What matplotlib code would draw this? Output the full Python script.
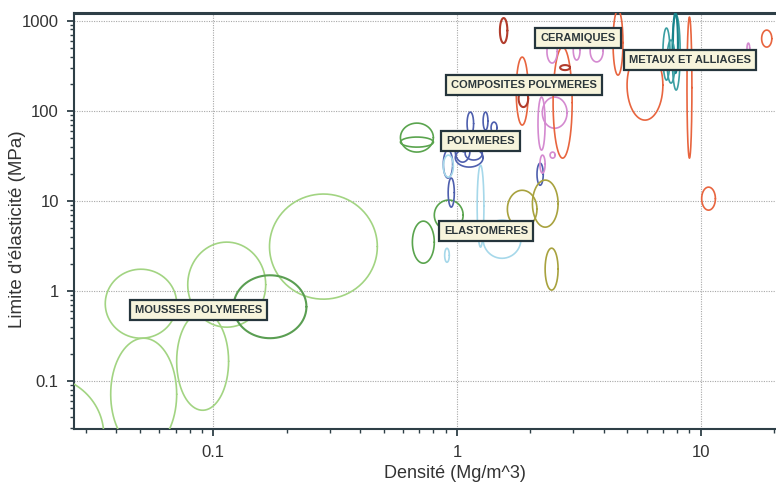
import numpy as np
import matplotlib
matplotlib.use("Agg")
import matplotlib.pyplot as plt
from matplotlib.ticker import FixedLocator, FixedFormatter, LogLocator, NullFormatter

plt.rcParams["font.family"] = ["Liberation Sans", "DejaVu Sans"]

# Material property envelopes: density range (Mg/m^3) and yield strength range (MPa)
family = [
    "foam", "foam", "foam", "foam", "foam", "foam", "foam_dark",
    "elast", "elast", "elast", "elast",
    "poly", "poly", "poly", "poly", "poly", "poly", "poly", "poly", "poly", "poly",
    "poly_light", "poly_light", "poly_light", "poly_light",
    "orange", "darkred", "pink", "pink", "pink", "pink", "orange", "darkred", "darkred",
    "pink", "pink", "pink",
    "orange", "orange", "teal", "teal", "teal_dark", "teal", "orange", "orange", "orange", "pink",
    "olive", "olive", "olive",
]
dens_min = [
    0.0108, 0.0379, 0.0360, 0.0707, 0.0785, 0.170, 0.121,
    0.656, 0.807, 0.586, 0.586,
    1.10, 1.28, 1.38, 0.984, 1.08, 0.92, 2.13, 1.02, 0.879, 0.984,
    0.879, 1.21, 1.28, 0.89,
    1.75, 1.79, 2.15, 2.24, 2.41, 2.19, 2.48, 2.65, 1.50,
    2.34, 3.00, 3.52,
    4.37, 4.99, 7.00, 7.64, 7.70, 7.28, 8.79, 10.1, 17.8, 15.5,
    1.61, 2.04, 2.30,
]
dens_max = [
    0.0355, 0.0707, 0.0707, 0.1155, 0.164, 0.471, 0.241,
    0.807, 1.06, 0.80, 0.80,
    1.17, 1.34, 1.46, 1.28, 1.27, 0.975, 2.26, 1.12, 0.96, 1.13,
    0.966, 1.29, 1.83, 0.93,
    1.96, 1.96, 2.30, 2.83, 2.53, 2.30, 2.97, 2.91, 1.61,
    2.58, 3.20, 3.98,
    4.80, 7.00, 7.49, 8.24, 8.07, 7.85, 9.21, 11.5, 19.6, 15.9,
    2.13, 2.60, 2.60,
]
ys_min = [
    0.0054, 0.017, 0.298, 0.0472, 0.395, 0.809, 0.298,
    2.03, 4.72, 34.8, 39.5,
    53.7, 61.0, 56.5, 23.7, 28.4, 8.51, 14.9, 35.0, 17.9, 26.9,
    18.3, 3.06, 2.30, 2.08,
    69.4, 110, 36.6, 64, 29.8, 20.3, 29.8, 283, 565,
    339, 366, 349,
    249, 78.8, 219, 170, 262, 203, 29.8, 7.88, 510, 438,
    4.98, 5.10, 1.02,
]
ys_max = [
    0.116, 0.298, 1.74, 0.58, 3.48, 11.9, 1.49,
    5.95, 10.2, 73, 51.1,
    96.8, 96.8, 74.9, 38.5, 39.6, 17.9, 26.2, 60.0, 36.6, 47.0,
    32.2, 24.9, 6.1, 2.97,
    395, 170, 142, 142, 34.8, 32.2, 510, 322, 1072,
    611, 611, 611,
    1315, 470, 830, 1157, 1218, 611, 1099, 14.2, 788, 565,
    13.1, 17.0, 2.98,
]

# Class labels and where they sit (density, strength)
label_text = ["CERAMIQUES", "METAUX ET ALLIAGES", "COMPOSITES POLYMERES",
              "POLYMERES", "ELASTOMERES", "MOUSSES POLYMERES"]
label_x = [3.14, 9.04, 1.89, 1.246, 1.319, 0.087]
label_y = [650, 366, 193, 46, 4.6, 0.61]

x_ticks = [0.1, 1, 10]
x_tick_labels = ["0.1", "1", "10"]
y_ticks = [0.1, 1, 10, 100, 1000]
y_tick_labels = ["0.1", "1", "10", "100", "1000"]

colors = {
    "foam": "#a2d482",
    "foam_dark": "#5a9e52",
    "elast": "#5aa44e",
    "poly": "#4e5fae",
    "poly_light": "#a6d8ea",
    "orange": "#e8653f",
    "darkred": "#b13c2c",
    "pink": "#d48ad0",
    "teal": "#3a9ea2",
    "teal_dark": "#17828a",
    "olive": "#a8a23e",
}

dark = "#2e3f47"

fig = plt.figure(figsize=(7.76, 4.84), dpi=100)
ax = fig.add_axes([0.0954, 0.113, 0.904, 0.8595])
ax.set_xscale("log")
ax.set_yscale("log")
ax.set_xlim(0.0268, 20.3)
ax.set_ylim(0.029, 1210)

# Each envelope is an ellipse in log-log space
t = np.linspace(0, 2 * np.pi, 240)
for fam, x0, x1, y0, y1 in zip(family, dens_min, dens_max, ys_min, ys_max):
    lx0, lx1 = np.log10(x0), np.log10(x1)
    ly0, ly1 = np.log10(y0), np.log10(y1)
    cx, rx = (lx0 + lx1) / 2, (lx1 - lx0) / 2
    cy, ry = (ly0 + ly1) / 2, (ly1 - ly0) / 2
    xs = 10 ** (cx + rx * np.cos(t))
    ys = 10 ** (cy + ry * np.sin(t))
    lw = 1.5 if fam in ("foam_dark", "teal_dark", "darkred") else 1.2
    ax.plot(xs, ys, color=colors[fam], lw=lw, zorder=3, solid_capstyle="round")

for txt, lx, ly in zip(label_text, label_x, label_y):
    ax.text(lx, ly, txt, ha="center", va="center", fontsize=8,
            color="#2b363b", fontweight="bold", zorder=6,
            bbox=dict(boxstyle="square,pad=0.45", facecolor="#f7f4dc",
                      edgecolor="#25353c", linewidth=1.6))

# Axes styling
ax.grid(True, which="major", linestyle=(0, (1, 1.2)), color="#a8a8a8", linewidth=0.8, zorder=0)
ax.spines["right"].set_visible(False)
ax.spines["top"].set_color(dark)
ax.spines["top"].set_linewidth(2.2)
for s in ("left", "bottom"):
    ax.spines[s].set_color(dark)
    ax.spines[s].set_linewidth(1.5)

ax.xaxis.set_major_locator(FixedLocator(x_ticks))
ax.xaxis.set_major_formatter(FixedFormatter(x_tick_labels))
ax.yaxis.set_major_locator(FixedLocator(y_ticks))
ax.yaxis.set_major_formatter(FixedFormatter(y_tick_labels))
ax.xaxis.set_minor_locator(LogLocator(base=10, subs=np.arange(2, 10)))
ax.yaxis.set_minor_locator(LogLocator(base=10, subs=np.arange(2, 10)))
ax.xaxis.set_minor_formatter(NullFormatter())
ax.yaxis.set_minor_formatter(NullFormatter())
ax.tick_params(which="major", direction="out", length=5, width=1.3, color=dark,
               labelsize=12, labelcolor="#333333", pad=6)
ax.tick_params(which="minor", direction="out", length=3, width=1.0, color=dark)
ax.tick_params(axis="x", which="both", top=False)
ax.tick_params(axis="y", which="both", right=False)

ax.set_xlabel("Densité (Mg/m^3)", fontsize=13, color="#333333")
ax.set_ylabel("Limite d'élasticité (MPa)", fontsize=13.5, color="#333333")
ax.xaxis.set_label_coords(0.543, -0.085)
ax.yaxis.set_label_coords(-0.068, 0.48)

fig.savefig("out.png", dpi=100, facecolor="white")
